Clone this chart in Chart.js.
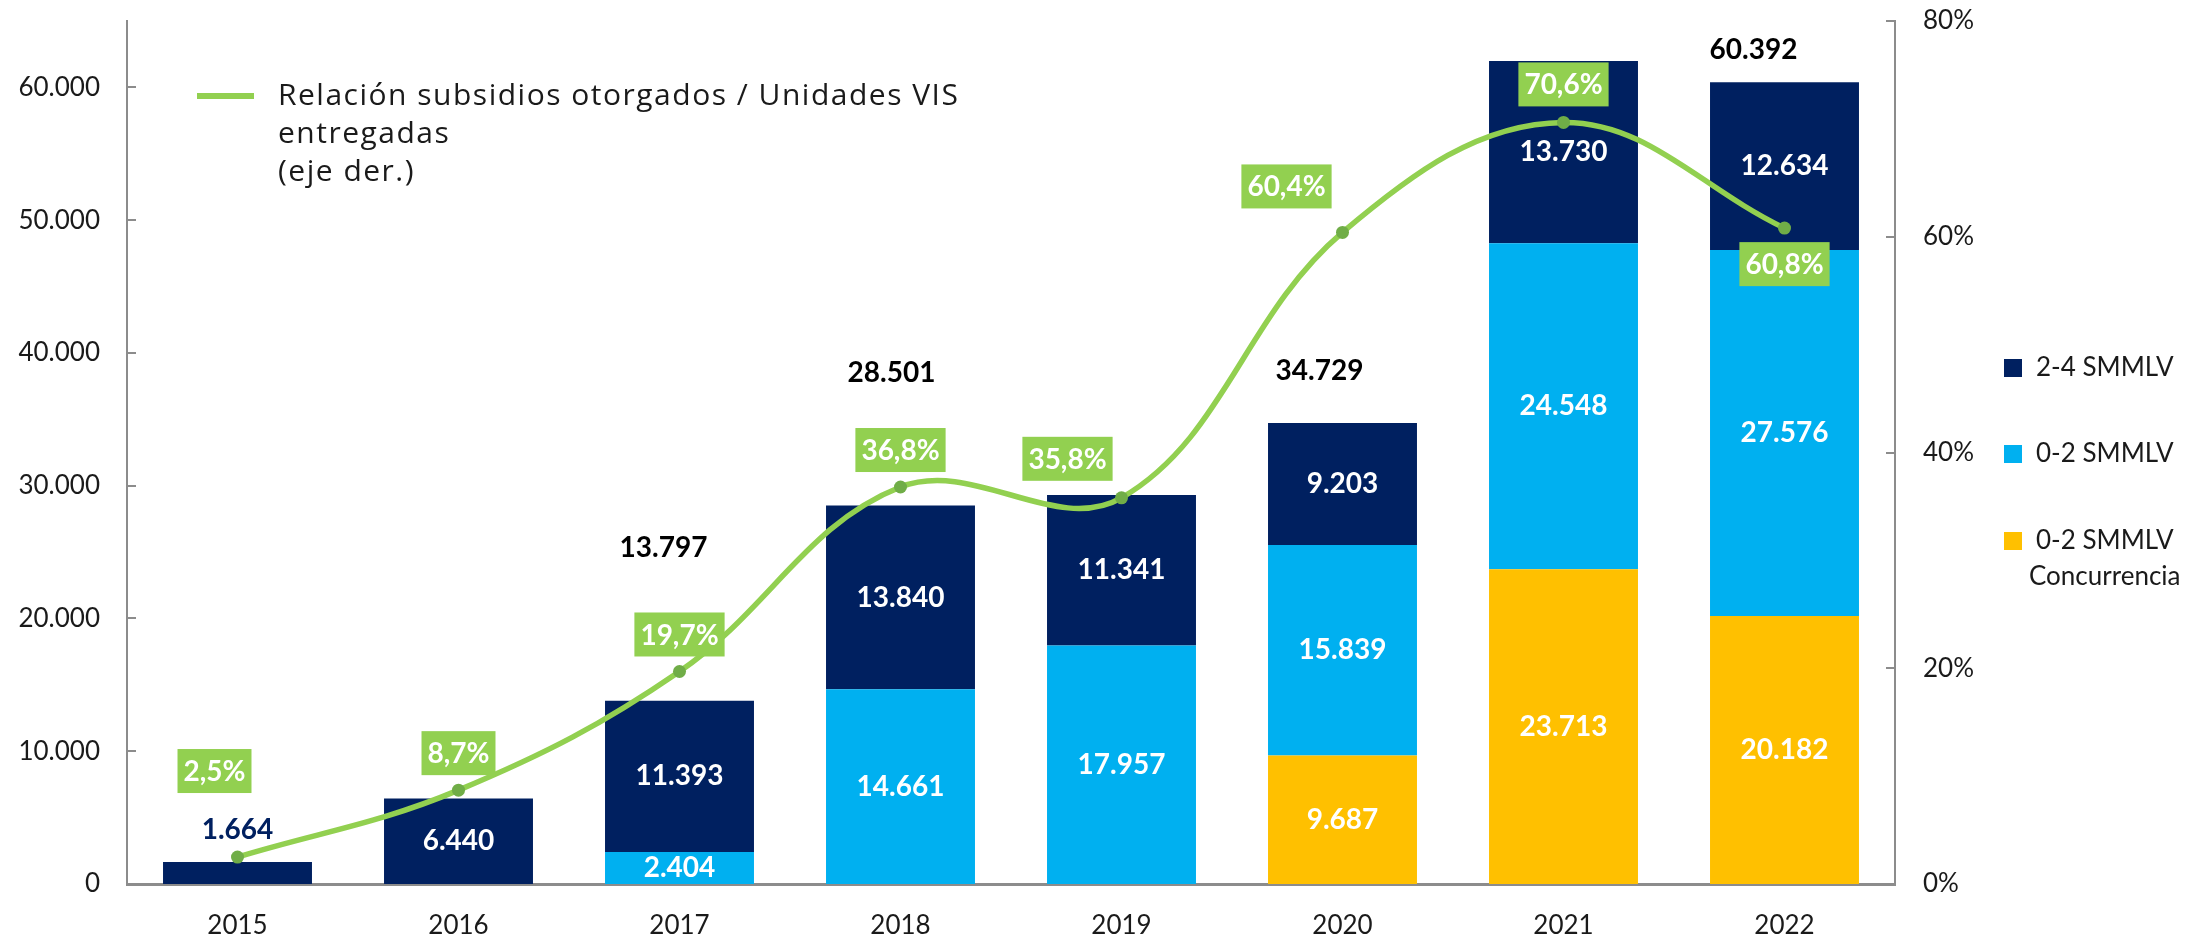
<!DOCTYPE html>
<html>
<head>
<meta charset="utf-8">
<script src="https://cdn.jsdelivr.net/npm/chart.js@4.4.1/dist/chart.umd.min.js"></script>
<style>
  html, body { margin: 0; padding: 0; background: #ffffff; }
  #wrap { width: 2210px; height: 934px; position: relative; }
</style>
</head>
<body>
<div id="wrap"><canvas id="c" width="2210" height="934"></canvas></div>
<script>
// ---- Data ----
const categories = ['2015', '2016', '2017', '2018', '2019', '2020', '2021', '2022'];
const seriesNames = ['0-2 SMMLV Concurrencia', '0-2 SMMLV', '2-4 SMMLV'];
const concurrencia = [null, null, null, null, null, 9687, 23713, 20182];
const smmlv02 = [null, null, 2404, 14661, 17957, 15839, 24548, 27576];
const smmlv24 = [1664, 6440, 11393, 13840, 11341, 9203, 13730, 12634];
const totals = [null, null, 13797, 28501, null, 34729, null, 60392];
const ratio = [2.5, 8.7, 19.7, 36.8, 35.8, 60.4, 70.6, 60.8];
const lineName = 'Relación subsidios otorgados / Unidades VIS entregadas (eje der.)';
const leftTicks = [0, 10000, 20000, 30000, 40000, 50000, 60000];
const rightTicks = [0, 20, 40, 60, 80];

// ---- Styles ----
const C_NAVY = '#002060';
const C_BLUE = '#00B0F0';
const C_YELLOW = '#FFC000';
const C_GREEN = '#92D050';
const C_GREEN_DARK = '#70AD47';
const C_AXIS = '#8C8C8C';
const NUM_FONT = 'Lato';

function fmtThousands(v) {
  return String(v).replace(/\B(?=(\d{3})+(?!\d))/g, '.');
}
function fmtPct(v) {
  return v.toFixed(1).replace('.', ',') + '%';
}

const labelsPlugin = {
  id: 'customLabels',
  afterDatasetsDraw(chart, args, opts) {
    const ctx = chart.ctx;
    const xs = chart.scales.x, ys = chart.scales.y;
    ctx.save();
    ctx.textAlign = 'center';
    ctx.textBaseline = 'middle';
    // bar segment labels
    chart.data.datasets.forEach((ds, di) => {
      if (ds.type === 'line') return;
      const meta = chart.getDatasetMeta(di);
      meta.data.forEach((bar, i) => {
        const v = ds.data[i];
        if (v == null) return;
        const h = Math.abs(bar.base - bar.y);
        ctx.font = 'bold 28px ' + NUM_FONT;
        if (h < 28) {
          ctx.fillStyle = ds.backgroundColor;
          ctx.fillText(fmtThousands(v), bar.x, bar.y - 32);
        } else {
          ctx.fillStyle = '#ffffff';
          ctx.fillText(fmtThousands(v), bar.x, (bar.y + bar.base) / 2);
        }
      });
    });
    // totals
    ctx.font = 'bold 28px ' + NUM_FONT;
    ctx.fillStyle = '#000000';
    totals.forEach((t, i) => {
      if (t == null) return;
      const x = xs.getPixelForValue(i) + opts.totalDx[i];
      const y = ys.getPixelForValue(t) - opts.totalDy[i];
      ctx.fillText(fmtThousands(t), x, y);
    });
    // line labels
    const li = chart.data.datasets.findIndex(d => d.type === 'line');
    const lmeta = chart.getDatasetMeta(li);
    ctx.font = 'bold 28px ' + NUM_FONT;
    lmeta.data.forEach((pt, i) => {
      const txt = fmtPct(ratio[i]);
      const w = ctx.measureText(txt).width + 12;
      const h = 44;
      const cx = pt.x + opts.lineDx[i];
      const cy = pt.y + opts.lineDy[i];
      ctx.fillStyle = C_GREEN;
      ctx.fillRect(cx - w / 2, cy - h / 2, w, h);
      ctx.fillStyle = '#ffffff';
      ctx.fillText(txt, cx, cy + 1);
    });
    ctx.restore();
  },
  afterDraw(chart, args, opts) {
    const ctx = chart.ctx;
    const area = chart.chartArea;
    ctx.save();
    // inner tick marks
    ctx.strokeStyle = C_AXIS;
    ctx.lineWidth = 2;
    chart.scales.y.ticks.forEach(t => {
      const y = Math.round(chart.scales.y.getPixelForValue(t.value));
      if (t.value === 0) return;
      ctx.beginPath(); ctx.moveTo(area.left, y); ctx.lineTo(area.left + 9, y); ctx.stroke();
    });
    chart.scales.y1.ticks.forEach(t => {
      const y = Math.round(chart.scales.y1.getPixelForValue(t.value));
      if (t.value === 0) return;
      ctx.beginPath(); ctx.moveTo(area.right - 9, y); ctx.lineTo(area.right, y); ctx.stroke();
    });
    // line legend (top-left)
    ctx.strokeStyle = C_GREEN;
    ctx.lineWidth = 6;
    ctx.beginPath(); ctx.moveTo(197, 96); ctx.lineTo(254, 96); ctx.stroke();
    ctx.fillStyle = '#1a1a1a';
    ctx.font = '30px "Open Sans"';
    try { ctx.letterSpacing = '1.5px'; } catch (e) {}
    ctx.textAlign = 'left';
    ctx.textBaseline = 'middle';
    const lines = ['Relación subsidios otorgados / Unidades VIS', 'entregadas', '(eje der.)'];
    lines.forEach((s, k) => ctx.fillText(s, 278, 96 + k * 38));
    try { ctx.letterSpacing = '0px'; } catch (e) {}
    // bar legend (right)
    const items = [
      { name: '2-4 SMMLV', color: C_NAVY, y: 368 },
      { name: '0-2 SMMLV', color: C_BLUE, y: 454 },
      { name: '0-2 SMMLV', color: C_YELLOW, y: 541 }
    ];
    ctx.font = '26px ' + NUM_FONT;
    items.forEach(it => {
      ctx.fillStyle = it.color;
      ctx.fillRect(2004, it.y - 9, 18, 18);
      ctx.fillStyle = '#1a1a1a';
      ctx.fillText(it.name, 2036, it.y);
    });
    ctx.fillText('Concurrencia', 2029, 577);
    ctx.restore();
  }
};

function noVPad(s) { s.paddingTop = 0; s.paddingBottom = 0; }

const ctx = document.getElementById('c').getContext('2d');
new Chart(ctx, {
  type: 'bar',
  data: {
    labels: categories,
    datasets: [
      {
        type: 'line', label: lineName, data: ratio, yAxisID: 'y1', order: 0,
        borderColor: C_GREEN, borderWidth: 5.5, tension: 0.38,
        pointRadius: 6.5, pointBackgroundColor: C_GREEN_DARK, pointBorderWidth: 0,
        pointHoverRadius: 6.5, fill: false
      },
      { label: seriesNames[0], data: concurrencia, backgroundColor: C_YELLOW, stack: 's', order: 1 },
      { label: seriesNames[1], data: smmlv02, backgroundColor: C_BLUE, stack: 's', order: 1 },
      { label: seriesNames[2], data: smmlv24, backgroundColor: C_NAVY, stack: 's', order: 1 }
    ]
  },
  options: {
    responsive: false,
    animation: false,
    devicePixelRatio: 1,
    layout: { autoPadding: false, padding: { top: 21, left: 0, right: 0, bottom: 0 } },
    datasets: { bar: { barPercentage: 0.674, categoryPercentage: 1.0 } },
    plugins: {
      legend: { display: false },
      tooltip: { enabled: false },
      customLabels: {
        totalDx: [0, 0, -16, -9, 0, -23, 0, -31],
        totalDy: [0, 0, 153, 133, 0, 52, 0, 32],
        lineDx: [-23, 0, 0, 0, -54, -56, 0, 0],
        lineDy: [-86, -37, -37, -37, -39, -46, -38, 36]
      }
    },
    scales: {
      x: {
        stacked: true,
        z: 1,
        grid: { display: false, drawTicks: false },
        border: { display: true, color: C_AXIS, width: 3 },
        ticks: { color: '#1a1a1a', font: { family: NUM_FONT, size: 26 }, padding: 26 },
        afterFit: s => { s.height = 50; s.paddingLeft = 0; s.paddingRight = 0; }
      },
      y: {
        stacked: true,
        position: 'left',
        min: 0, max: 65000,
        grid: { display: false, drawTicks: false },
        border: { display: true, color: C_AXIS, width: 2 },
        ticks: { stepSize: 10000, color: '#1a1a1a', font: { family: NUM_FONT, size: 26 }, padding: 27,
                 callback: v => fmtThousands(v) },
        afterBuildTicks: s => { s.ticks = leftTicks.map(v => ({ value: v })); },
        afterFit: s => { s.width = 127; noVPad(s); }
      },
      y1: {
        position: 'right',
        min: 0, max: 80,
        grid: { display: false, drawTicks: false },
        border: { display: true, color: C_AXIS, width: 2 },
        ticks: { stepSize: 20, color: '#1a1a1a', font: { family: NUM_FONT, size: 26 }, padding: 28,
                 callback: v => v + '%' },
        afterBuildTicks: s => { s.ticks = rightTicks.map(v => ({ value: v })); },
        afterFit: s => { s.width = 315; noVPad(s); }
      }
    }
  },
  plugins: [labelsPlugin]
});
</script>
</body>
</html>
